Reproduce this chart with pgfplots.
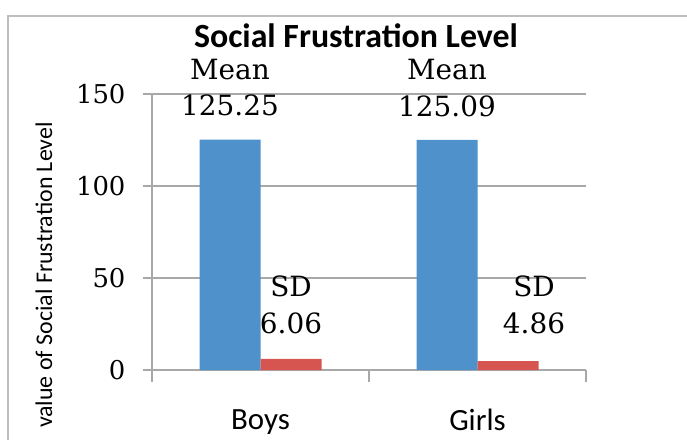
\documentclass[border=0pt]{standalone}
\usepackage{pgfplots}
\pgfplotsset{compat=1.18}
\usepackage{fontspec}
\setmainfont{Carlito}
\newfontfamily\numfont{DejaVu Serif}
\definecolor{barblue}{RGB}{79,145,202}
\definecolor{barred}{RGB}{215,85,80}
\definecolor{linegray}{RGB}{168,168,168}
\definecolor{framegray}{RGB}{190,190,190}
\begin{document}
\begin{tikzpicture}
\path[use as bounding box] (0bp,0bp) rectangle (687bp,-440bp);
\draw[framegray, line width=2bp] (8bp,-470bp) -- (8bp,-16bp) -- (720bp,-16bp);
\begin{axis}[
  at={(152bp,-370bp)}, anchor=south west,
  scale only axis, width=434bp, height=276bp,
  xmin=-0.5, xmax=1.5, ymin=0, ymax=150,
  axis x line*=bottom, axis y line*=left,
  axis line style={linegray, line width=1.5bp, -},
  ybar=0pt, bar width=61bp,
  xtick={0,1}, xticklabels={Boys,Girls},
  xtick style={draw=none},
  xticklabel style={font=\fontsize{31}{36}\selectfont, yshift=-27bp},
  extra x ticks={-0.5,0.5,1.5}, extra x tick labels={},
  extra x tick style={xtick style={draw=linegray, line width=1.5bp}, major tick length=12bp, tick align=outside, grid=none},
  ytick={0,50,100,150},
  ymajorgrids, grid style={linegray, line width=1.5bp},
  ytick style={linegray, line width=1.5bp},
  tick align=outside, major tick length=9bp,
  /pgf/number format/assume math mode=true,
  yticklabel style={font=\numfont\fontsize{26}{30}\selectfont, xshift=-14bp},
  ylabel={value of Social Frustration Level},
  ylabel style={font=\fontsize{24}{28}\selectfont, at={(axis description cs:-0.249,0.344)}, anchor=center},
  title={\textbf{Social Frustration Level}},
  title style={font=\fontsize{34}{38}\selectfont, at={(axis description cs:0.47,1)}, anchor=base, yshift=41bp},
  clip=false,
]
\addplot[fill=barblue, draw=none, bar shift=-30.5bp,
  nodes near coords={Mean\\\pgfmathprintnumber[fixed,precision=2,fixed zerofill]{\pgfplotspointmeta}},
  every node near coord/.append style={font=\numfont\fontsize{28}{37}\selectfont, align=center, anchor=south, inner sep=0pt, yshift=23bp, text=black}]
  coordinates {(0,125.25) (1,125.09)};
\addplot[fill=barred, draw=none, bar shift=30.5bp]
  coordinates {(0,6.06) (1,4.86)};
% SD labels (Boys centred on its bar, Girls moved right as in the reference)
\addplot[draw=none, fill=none, bar shift=30.5bp, forget plot,
  nodes near coords={SD\\\pgfmathprintnumber[fixed,precision=2,fixed zerofill]{\pgfplotspointmeta}},
  every node near coord/.append style={font=\numfont\fontsize{28}{37}\selectfont, align=center, anchor=south, inner sep=0pt, yshift=25bp, xshift=0bp, text=black}]
  coordinates {(0,6.06)};
\addplot[draw=none, fill=none, bar shift=30.5bp, forget plot,
  nodes near coords={SD\\\pgfmathprintnumber[fixed,precision=2,fixed zerofill]{\pgfplotspointmeta}},
  every node near coord/.append style={font=\numfont\fontsize{28}{37}\selectfont, align=center, anchor=south, inner sep=0pt, yshift=27bp, xshift=26bp, text=black}]
  coordinates {(1,4.86)};
\end{axis}
\end{tikzpicture}
\end{document}
